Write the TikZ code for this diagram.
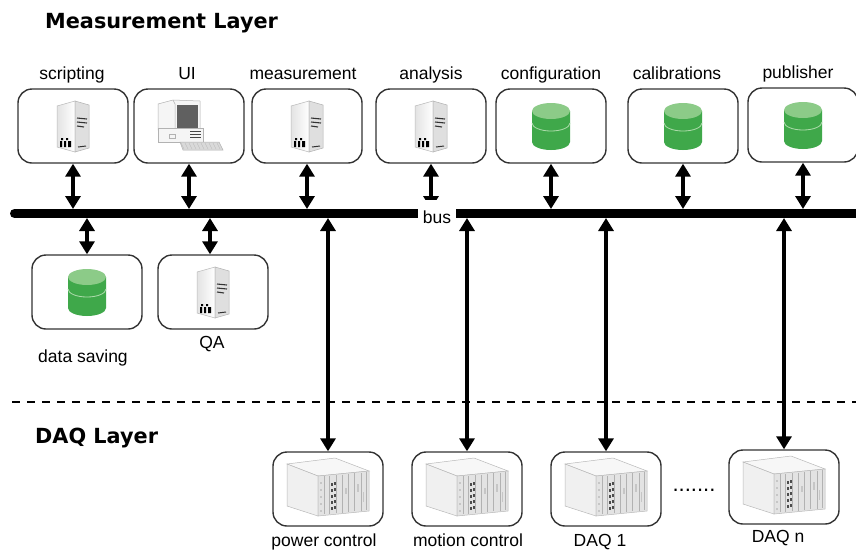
\documentclass[tikz,border=0pt]{standalone}
\usepackage{fontspec}
\setmainfont{Liberation Sans}
\newfontfamily\titlefont{DejaVu Sans}
\usetikzlibrary{arrows.meta}
\definecolor{dbgreen}{HTML}{3FA84A}
\definecolor{dbtop}{HTML}{8CCB88}
\definecolor{boxline}{HTML}{333333}
\tikzset{
  box/.style={draw=boxline, line width=1.4pt, rounded corners=14pt, fill=white,
    minimum width=110pt, minimum height=74pt, inner sep=0pt},
  lbl/.style={font=\fontsize{17.5}{20}\selectfont, inner sep=0pt, anchor=base},
  ttl/.style={font=\titlefont\bfseries\fontsize{20.8}{24}\selectfont, inner sep=0pt, anchor=base west},
  dbl/.style={line width=3.2pt, {Triangle[width=15pt,length=13pt]}-{Triangle[width=15pt,length=13pt]}},
  server/.pic={
    \shade[left color=gray!22, right color=white, draw=gray!55, line width=0.5pt]
      (-16,-20) -- (2,-25) -- (2,26) -- (-16,21) -- cycle;
    \filldraw[fill=gray!25, draw=gray!60, line width=0.5pt]
      (2,-25) -- (16,-21) -- (16,22) -- (2,26) -- cycle;
    \draw[gray!40!black, line width=1.1pt] (4,-8) -- (14,-7) (4,-4) -- (14,-3) (4,0) -- (11,1);
    \draw[gray!40!black, line width=1pt] (5,21) -- (13,20);
    \fill[black] (-13,15) rectangle (-11,21) (-9,15) rectangle (-7,21) (-5,15) rectangle (-2,21)
      (-12,12) rectangle (-10,14) (-7,12) rectangle (-5,14);
  },
  dbicon/.pic={
    \fill[dbgreen] (-19,-15) -- (-19,16) arc[start angle=180, end angle=360, x radius=19pt, y radius=8pt] -- (19,-15) -- cycle;
    \fill[dbtop] (0,-15) ellipse [x radius=19pt, y radius=8pt];
    \draw[dbtop!70!white, line width=0.8pt] (-19,-3) arc[start angle=180, end angle=360, x radius=19pt, y radius=8pt];
  },
  pcicon/.pic={
    \filldraw[fill=gray!8, draw=gray!60, line width=0.5pt]
      (-31,-22) -- (-16,-26) -- (11,-25) -- (11,4) -- (-31,4) -- cycle;
    \draw[gray!60, line width=0.5pt] (-16,-26) -- (-14,-22) -- (-14,4);
    \fill[gray!75!black] (-12,-21) -- (9,-21) -- (9,2) -- (-12,2) -- cycle;
    \filldraw[fill=gray!8, draw=gray!60, line width=0.5pt] (-31,2) rectangle (14,16);
    \draw[gray!55!black, line width=0.8pt] (1,5) -- (12,5) (1,8) -- (12,8) (1,11) -- (12,11);
    \draw[gray!60, line width=0.5pt] (-20,8) rectangle (-14,12);
    \filldraw[fill=gray!30, draw=gray!60, line width=0.5pt] (-9,16) -- (30,16) -- (34,24) -- (-6,24) -- cycle;
    \foreach \k in {0,...,9} {\draw[gray!55, line width=0.3pt] ({-8+4*\k},17) -- ({-5+4*\k},23);}
  },
  rackicon/.pic={
    \filldraw[fill=gray!6, draw=gray!55, line width=0.5pt] (-41,-22) -- (7,-28) -- (41,-15) -- (-10,-10) -- cycle;
    \filldraw[fill=gray!12, draw=gray!55, line width=0.5pt] (-41,-22) -- (-10,-10) -- (-10,30) -- (-41,20) -- cycle;
    \filldraw[fill=gray!22, draw=gray!55, line width=0.5pt] (-10,-10) -- (41,-15) -- (41,25) -- (-10,30) -- cycle;
    \foreach \t in {0.12,0.22,0.36,0.48,0.6,0.72,0.84,0.94}
      {\draw[gray!60, line width=0.5pt] ({-10+51*\t},{-9-5*\t}) -- ({-10+51*\t},{29-5*\t});}
    \foreach \r in {0,...,4} {
      \fill[gray!60!black] ({-10+51*0.25},{-2+6*\r-1.3}) rectangle ++(2,3);
      \fill[gray!60!black] ({-10+51*0.31},{-2+6*\r-1.6}) rectangle ++(2,3);
      \fill[gray!45] ({-10+51*0.04},{-4+7*\r}) rectangle ++(1.5,2);
    }
    \fill[gray!45] ({-10+51*0.52},{2}) rectangle ++(2,6);
    \fill[gray!45] ({-10+51*0.77},{-2}) rectangle ++(2,8);
    \fill[gray!45] ({-10+51*0.88},{6}) rectangle ++(1.5,10);
  }
}
\begin{document}
\begin{tikzpicture}[x=1pt, y=-1pt]
\useasboundingbox (0,0) rectangle (856,550);

% titles
\node[ttl] (tm) at (45,28) {Measurement Layer};
\node[ttl] (td) at (35,443) {DAQ Layer};

% bus
\coordinate (busL) at (14.5,213.5);
\coordinate (busR) at (870,213.5);
\coordinate (bt) at (0,209);
\coordinate (bb) at (0,218);
\draw[line width=9pt, line cap=round] (busL) -- (busR);

% dashed separator
\coordinate (dL) at (12,402);
\coordinate (dR) at (856,402);
\draw[line width=2pt, dash pattern=on 8pt off 7pt] (dL) -- (dR);

% top boxes
\node[box] (scr) at (73,126) {};
\node[box] (ui) at (189,126) {};
\node[box] (mea) at (307,126) {};
\node[box] (ana) at (431,126) {};
\node[box] (cfg) at (551,126) {};
\node[box] (cal) at (683,126) {};
\node[box] (pub) at (803,125) {};

\path (scr.center) pic {server};
\path (ui.center) pic {pcicon};
\path (mea.center) pic {server};
\path (ana.center) pic {server};
\path (cfg.center) pic {dbicon};
\path (cal.center) pic {dbicon};
\path (pub.center) pic {dbicon};

\node[lbl] (lscr) at (72,79) {scripting};
\node[lbl] (lui) at (187,79) {UI};
\node[lbl] (lmea) at (303,79) {measurement};
\node[lbl] (lana) at (431,79) {analysis};
\node[lbl] (lcfg) at (551,79) {configuration};
\node[lbl] (lcal) at (677,79) {calibrations};
\node[lbl] (lpub) at (798,78) {publisher};

% arrows top boxes <-> bus
\foreach \n in {scr,ui,mea,ana,cfg,cal,pub}
  {\draw[dbl] (\n.south) -- (\n.south |- bt);}

% lower measurement boxes
\node[box] (dsv) at (87,292) {};
\node[box] (qa) at (213,292) {};
\path (dsv.center) pic {dbicon};
\path (qa.center) pic {server};
\node[lbl] (ldsv) at (83,362) {data saving};
\node[lbl] (lqa) at (212,348) {QA};
\draw[dbl] (dsv.north |- bb) -- (dsv.north);
\draw[dbl] ([xshift=-3pt]qa.north |- bb) -- ([xshift=-3pt]qa.north);

% DAQ boxes
\node[box] (pow) at (328,489) {};
\node[box] (mot) at (467,489) {};
\node[box] (daq1) at (606,489) {};
\node[box] (daqn) at (784,487) {};
\foreach \n in {pow,mot,daq1,daqn}
  {\path ([yshift=3pt]\n.center) pic {rackicon};
   \draw[dbl] (\n.north |- bb) -- (\n.north);}
\node[lbl] (lpow) at (324,546) {power control};
\node[lbl] (lmot) at (468,546) {motion control};
\node[lbl] (ldaq1) at (600,546) {DAQ 1};
\node[lbl] (ldaqn) at (778,542) {DAQ n};
\node[lbl, font=\fontsize{22}{24}\selectfont] (dots) at (694,491) {.......};

% bus label (covers the bus and the analysis arrow tip)
\node[fill=white, font=\fontsize{17.5}{20}\selectfont, inner xsep=4.4pt, inner ysep=0pt,
      text height=23pt, text depth=4pt, anchor=base] (bus) at (437,223) {bus};
\end{tikzpicture}
\end{document}
